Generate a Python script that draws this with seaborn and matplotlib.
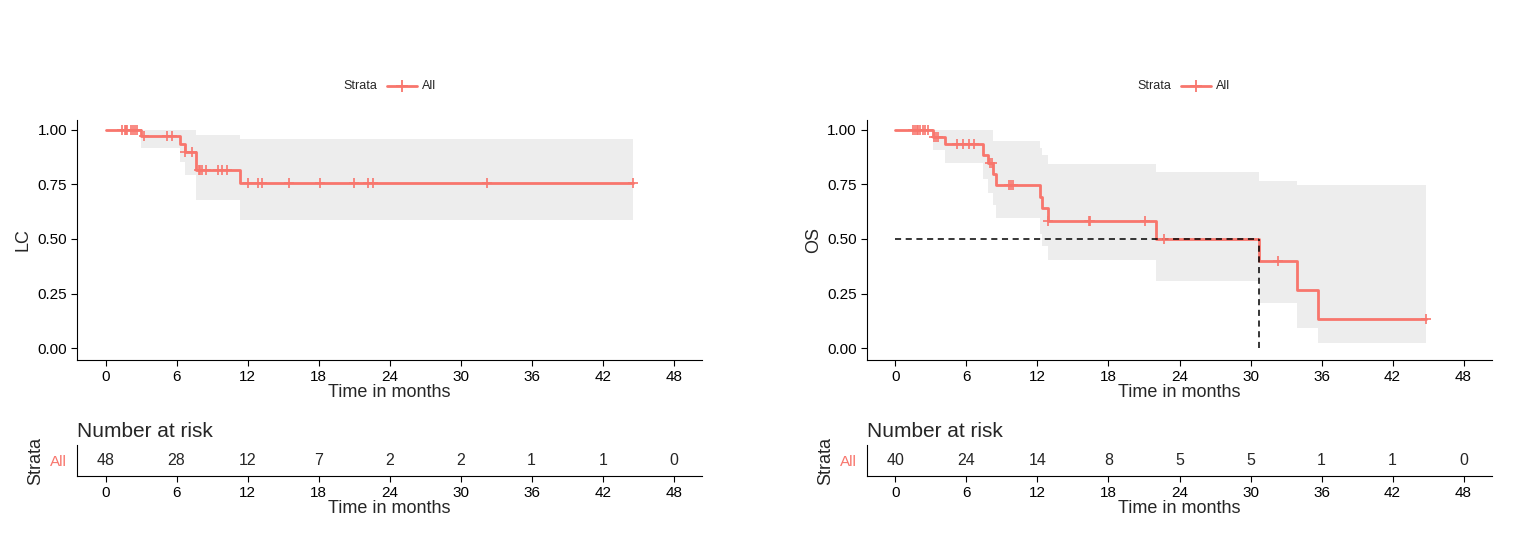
import matplotlib
matplotlib.use("Agg")
import matplotlib.pyplot as plt
import seaborn as sns
import numpy as np
import pandas as pd
from matplotlib.lines import Line2D

sns.set_style("white")
plt.rcParams['font.family'] = ['Liberation Sans', 'DejaVu Sans']

COL = "#F8766D"
# LC curve
lc_t = [0, 2.97, 6.25, 6.68, 7.64, 11.35, 44.6]
lc_s = [1.0, 0.970, 0.9375, 0.90, 0.814, 0.755, 0.755]
lc_lo = [1.0, 0.916, 0.852, 0.794, 0.68, 0.589, 0.589]
lc_hi = [1.0, 1.0, 1.0, 1.0, 0.978, 0.958, 0.958]
lc_cens = [1.41, 1.61, 1.74, 1.83, 2.16, 2.32, 2.48, 2.64, 3.22, 5.16, 5.64, 6.68, 7.32,
           7.87, 8.0, 8.12, 8.45, 9.51, 9.84, 10.22, 12.03, 12.84, 13.26, 15.48, 18.13,
           21.0, 22.2, 22.6, 32.2, 44.6]
lc_risk = [48, 28, 12, 7, 2, 2, 1, 1, 0]

# OS curve
os_t = [0, 3.14, 4.2, 7.4, 7.82, 8.24, 8.53, 12.2, 12.4, 12.9, 22.05, 30.7, 33.9, 35.7, 44.8]
os_s = [1.0, 0.969, 0.935, 0.886, 0.85, 0.797, 0.749, 0.694, 0.641, 0.583, 0.5, 0.40, 0.265, 0.131, 0.131]
os_lo = [1.0, 0.909, 0.846, 0.774, 0.712, 0.655, 0.594, 0.525, 0.466, 0.403, 0.309, 0.208, 0.094, 0.023, 0.023]
os_hi = [1.0, 1.0, 1.0, 1.0, 1.0, 0.948, 0.948, 0.918, 0.885, 0.843, 0.808, 0.765, 0.746, 0.749, 0.749]
os_cens = [1.46, 1.63, 1.79, 1.91, 2.11, 2.3, 2.5, 2.72, 3.3, 3.46, 3.63, 5.24, 5.72, 6.2, 6.63,
           7.98, 8.14, 9.59, 9.76, 9.92, 12.92, 16.37, 16.46, 21.1, 22.7, 32.3, 44.8]
os_risk = [40, 24, 14, 8, 5, 5, 1, 1, 0]
os_median = 30.7

risk_times = [0, 6, 12, 18, 24, 30, 36, 42, 48]

W, H = 1519, 560
fig = plt.figure(figsize=(W / 100, H / 100), dpi=100)

def surv_at(ts, ss, x):
    idx = np.searchsorted(ts, x, side='right') - 1
    return np.array(ss)[idx]

def legend_at(px):
    y = 1 - 86 / H
    fig.text(px / W, y, "Strata", fontsize=9, ha='left', va='center')
    x0 = (px + 44) / W
    x1 = (px + 74) / W
    fig.add_artist(Line2D([x0, x1], [y, y], color=COL, lw=2, transform=fig.transFigure))
    fig.add_artist(Line2D([(x0 + x1) / 2], [y], color=COL, marker='+', markersize=8,
                          mew=1.3, transform=fig.transFigure))
    fig.text((px + 79) / W, y, "All", fontsize=9, ha='left', va='center')

def panel(left, t, s, lo, hi, cens, risk, ylabel, legx, median=None):
    ax = fig.add_axes([left, 0.357, 0.411, 0.429])
    ax.fill_between(t, lo, hi, step='post', color='#EDEDED', lw=0)
    df = pd.DataFrame({'t': t, 's': s})
    sns.lineplot(data=df, x='t', y='s', ax=ax, color=COL, lw=2, drawstyle='steps-post', estimator=None)
    cs = surv_at(t, s, np.array(cens))
    sns.scatterplot(x=cens, y=cs, ax=ax, marker='+', s=60, color=COL, linewidth=1.2, zorder=5)
    if median is not None:
        ax.plot([0, median], [0.5, 0.5], color='black', lw=1.1, dashes=(4, 3))
        ax.plot([median, median], [0, 0.5], color='black', lw=1.1, dashes=(4, 3))
    ax.set_xlim(-2.37, 50.37)
    ax.set_ylim(-0.055, 1.046)
    ax.set_xticks(risk_times)
    ax.set_yticks([0, 0.25, 0.5, 0.75, 1.0])
    ax.set_yticklabels(["0.00", "0.25", "0.50", "0.75", "1.00"])
    ax.set_xlabel("Time in months", fontsize=13, labelpad=0)
    ax.set_ylabel(ylabel, fontsize=13)
    ax.tick_params(labelsize=11, length=4, direction='out', bottom=True, left=True, colors='black')
    sns.despine(ax=ax)
    for sp in ['left', 'bottom']:
        ax.spines[sp].set_color('black')
    legend_at(legx)

    rax = fig.add_axes([left, 0.15, 0.411, 0.055])
    for x, n in zip(risk_times, risk):
        rax.text(x, 0, str(n), ha='center', va='center', fontsize=11.5)
    rax.set_xlim(-2.37, 50.37)
    rax.set_ylim(-0.5, 0.5)
    rax.set_xticks(risk_times)
    rax.set_yticks([0])
    rax.set_yticklabels(['All'])
    rax.set_xlabel("Time in months", fontsize=13, labelpad=0)
    rax.set_ylabel("Strata", fontsize=13)
    rax.tick_params(labelsize=11, length=4, bottom=True, left=False, colors='black')
    rax.get_yticklabels()[0].set_color(COL)
    sns.despine(ax=rax)
    for sp in ['left', 'bottom']:
        rax.spines[sp].set_color('black')
    rax.set_title("Number at risk", loc='left', fontsize=15, pad=6, x=0)

panel(0.051, lc_t, lc_s, lc_lo, lc_hi, lc_cens, lc_risk, "LC", 343)
panel(0.571, os_t, os_s, os_lo, os_hi, os_cens, os_risk, "OS", 1137, median=os_median)

fig.savefig("out.png", dpi=100)
